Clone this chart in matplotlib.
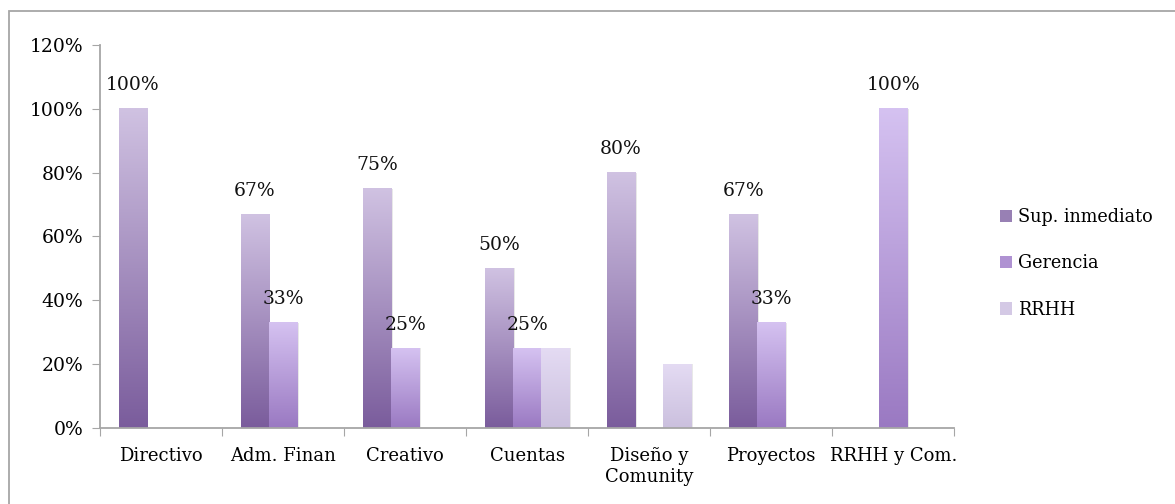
import numpy as np
import matplotlib
matplotlib.use("Agg")
import matplotlib.pyplot as plt
from matplotlib.colors import LinearSegmentedColormap
from matplotlib.patches import Patch, Rectangle
from matplotlib.ticker import FuncFormatter, MultipleLocator

plt.rcParams['font.family'] = ['DejaVu Serif']

categories = ["Directivo", "Adm. Finan", "Creativo", "Cuentas", "Diseño y\nComunity",
              "Proyectos", "RRHH y Com."]
series_names = ["Sup. inmediato", "Gerencia", "RRHH"]
sup_inmediato = [1.00, 0.67, 0.75, 0.50, 0.80, 0.67, 0.00]
gerencia = [0.00, 0.33, 0.25, 0.25, 0.00, 0.33, 1.00]
rrhh = [0.00, 0.00, 0.00, 0.25, 0.20, 0.00, 0.00]
labelled = [True, True, False]

# (bottom colour, top colour) for each series' vertical gradient
gradients = [("#7a5c9c", "#d0c2e2"),
             ("#9a79c2", "#d5c2f1"),
             ("#cbc0de", "#e4dbf3")]

fig = plt.figure(figsize=(11.75, 5.04), dpi=100)
ax = fig.add_axes([0.0851, 0.1508, 0.727, 0.76])

# outer frame
fig.patches.append(Rectangle((9 / 1175, -0.05), 1.2, 1.05 - 10.5 / 504,
                             transform=fig.transFigure, fill=False,
                             edgecolor="#a6a6a6", linewidth=1.3, zorder=0))

n = len(categories)
x = np.arange(n)
w = 0.23
data = [sup_inmediato, gerencia, rrhh]
grad = np.linspace(0, 1, 256).reshape(-1, 1)

for i, (vals, (c0, c1)) in enumerate(zip(data, gradients)):
    cmap = LinearSegmentedColormap.from_list(f"g{i}", [c0, c1])
    offs = (i - 1) * w
    bars = ax.bar(x + offs, vals, width=w, color="none", edgecolor="none", zorder=2)
    for b, v in zip(bars, vals):
        if v <= 0:
            continue
        x0, y0 = b.get_x(), b.get_y()
        bw, bh = b.get_width(), b.get_height()
        # soft shadow on the right side
        ax.add_patch(Rectangle((x0 + 0.012, y0), bw, bh, facecolor="#bfbfbf",
                               alpha=0.35, edgecolor="none", zorder=1.5))
        ax.imshow(grad, cmap=cmap, origin="lower", aspect="auto",
                  extent=(x0, x0 + bw, y0, y0 + bh), zorder=2)
        if labelled[i]:
            ax.text(x0 + bw / 2, v + 0.045, f"{round(v * 100):d}%", ha="center",
                    va="bottom", fontsize=13.5, color="#111111", zorder=3)

ax.set_xlim(-0.5, n - 0.5)
ax.set_ylim(0, 1.2)
ax.yaxis.set_major_locator(MultipleLocator(0.2))
ax.yaxis.set_major_formatter(FuncFormatter(lambda v, p: f"{round(v * 100):d}%"))

ax.set_xticks(np.arange(n + 1) - 0.5)
ax.set_xticklabels([])
ax.set_xticks(x, minor=True)
ax.set_xticklabels(categories, minor=True, fontsize=13, linespacing=1.15)
ax.tick_params(axis="x", which="minor", length=0, pad=14)
ax.tick_params(axis="x", which="major", length=6, color="#a6a6a6", direction="out")
ax.tick_params(axis="y", length=6, color="#a6a6a6", labelsize=13.5, pad=6)

for s in ["top", "right"]:
    ax.spines[s].set_visible(False)
for s in ["left", "bottom"]:
    ax.spines[s].set_color("#a6a6a6")
    ax.spines[s].set_linewidth(1.3)

handles = [Patch(facecolor=LinearSegmentedColormap.from_list("h", g)(0.35), edgecolor="none")
           for g in gradients]
ax.legend(handles, series_names, loc="center left", bbox_to_anchor=(1.035, 0.43),
          frameon=False, fontsize=12.7, handlelength=0.7, handleheight=0.7,
          handletextpad=0.3, labelspacing=1.6)

fig.savefig("out.png", dpi=100)
